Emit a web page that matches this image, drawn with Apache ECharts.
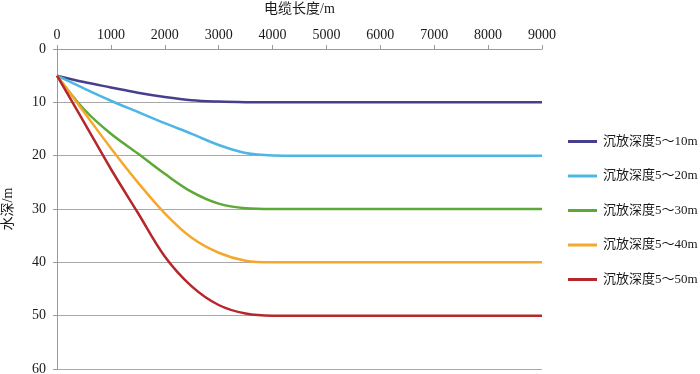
<!DOCTYPE html>
<html>
<head>
<meta charset="utf-8">
<script src="https://cdn.jsdelivr.net/npm/echarts@6/dist/echarts.min.js"></script>
<style>
html, body { margin: 0; padding: 0; background: #fff; }
#main { width: 700px; height: 374px; }
</style>
</head>
<body>
<div id="main"></div>
<script>
// 电缆长度 (m)
var distances = [0, 500, 1000, 1500, 2000, 2500, 3000, 3500, 4000, 4500, 5000, 5500, 6000, 6500, 7000, 7500, 8000, 8500, 9000];
// 水深 (m) for each 沉放深度
var depth10 = [5, 6.2, 7.2, 8.2, 9.0, 9.6, 9.85, 9.97, 10, 10, 10, 10, 10, 10, 10, 10, 10, 10, 10];
var depth20 = [5, 7.4, 9.7, 11.8, 13.9, 15.9, 18.0, 19.5, 19.95, 20, 20, 20, 20, 20, 20, 20, 20, 20, 20];
var depth30 = [5, 11.3, 15.9, 19.6, 23.4, 26.8, 29.0, 29.85, 30, 30, 30, 30, 30, 30, 30, 30, 30, 30, 30];
var depth40 = [5, 11.8, 18.6, 25.0, 30.8, 35.4, 38.2, 39.7, 40, 40, 40, 40, 40, 40, 40, 40, 40, 40, 40];
var depth50 = [5, 13.7, 22.5, 30.7, 38.9, 44.5, 48.0, 49.6, 50, 50, 50, 50, 50, 50, 50, 50, 50, 50, 50];

var seriesNames = ['沉放深度5～10m', '沉放深度5～20m', '沉放深度5～30m', '沉放深度5～40m', '沉放深度5～50m'];
var seriesData = [depth10, depth20, depth30, depth40, depth50];
var colors = ['#463f8e', '#4cb6e4', '#5ca935', '#f5a82c', '#b5272b'];

var FONT = '"Liberation Serif", "Noto Sans CJK SC", serif';

function pairs(ys) {
    return ys.map(function (y, i) { return [distances[i], y]; });
}

var chart = echarts.init(document.getElementById('main'));
chart.setOption({
    animation: false,
    color: colors,
    textStyle: { fontFamily: FONT },
    grid: { left: 57, top: 49, right: 158, bottom: 5, containLabel: false, outerBoundsMode: 'none' },
    legend: {
        orient: 'vertical',
        left: 563,
        top: 130,
        icon: 'rect',
        itemWidth: 29,
        itemHeight: 3,
        itemGap: 21.5,
        textStyle: { fontFamily: FONT, fontSize: 13, color: '#1a1a1a', padding: [0, 0, 0, 1] },
        data: seriesNames
    },
    xAxis: {
        type: 'value',
        position: 'top',
        min: 0,
        max: 9000,
        interval: 1000,
        name: '电缆长度/m',
        nameLocation: 'middle',
        nameGap: 33,
        nameTextStyle: { fontFamily: FONT, fontSize: 14, color: '#1a1a1a' },
        axisLine: { show: true, lineStyle: { color: '#9a9a9a', width: 1 } },
        axisTick: { show: true, inside: false, length: 4, lineStyle: { color: '#9a9a9a' } },
        axisLabel: { fontFamily: FONT, fontSize: 14, color: '#1a1a1a', margin: 7, formatter: function (v) { return String(v); } },
        splitLine: { show: false }
    },
    yAxis: {
        type: 'value',
        inverse: true,
        min: 0,
        max: 60,
        interval: 10,
        name: '水深/m',
        nameLocation: 'middle',
        nameGap: 42,
        nameRotate: 90,
        nameTextStyle: { fontFamily: FONT, fontSize: 14, color: '#1a1a1a' },
        axisLine: { show: true, lineStyle: { color: '#9a9a9a', width: 1 } },
        axisTick: { show: true, inside: false, length: 4, lineStyle: { color: '#9a9a9a' } },
        axisLabel: { fontFamily: FONT, fontSize: 14, color: '#1a1a1a', margin: 11 },
        splitLine: { show: true, lineStyle: { color: '#a8a8a8', width: 1 } }
    },
    series: seriesNames.map(function (name, i) {
        return {
            name: name,
            type: 'line',
            smooth: 0.35,
            symbol: 'none',
            lineStyle: { width: 2.5, color: colors[i] },
            data: pairs(seriesData[i])
        };
    })
});
</script>
</body>
</html>
